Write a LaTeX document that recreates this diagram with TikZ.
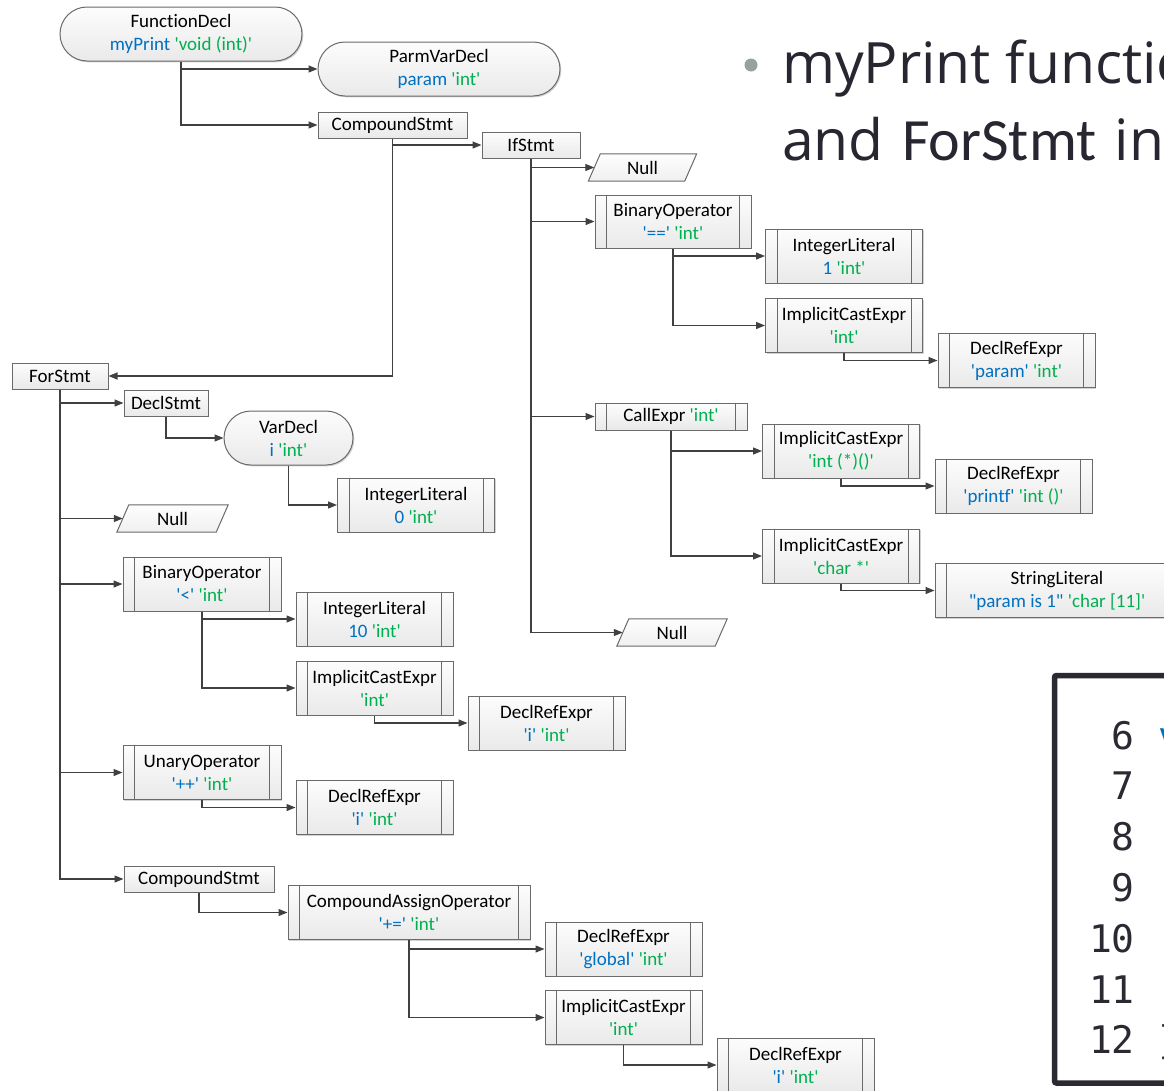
\documentclass[tikz,border=0pt]{standalone}
\usepackage{fontspec}
\setmainfont{Carlito}[Ligatures={TeXOff,NoCommon}]
\newfontfamily\titlefont{Open Sans}
\newfontfamily\titlecal{Carlito}[Ligatures={TeXOff,NoCommon}]
\newfontfamily\codefont{DejaVu Sans Mono}
\usetikzlibrary{arrows.meta,shadows,backgrounds}
\definecolor{cblue}{HTML}{0070C0}
\definecolor{cgreen}{HTML}{00B050}
\definecolor{lnc}{HTML}{404040}
\definecolor{bdc}{HTML}{6A6A6A}
\definecolor{titc}{HTML}{272631}
\definecolor{bulc}{HTML}{95A39B}
\definecolor{codeb}{HTML}{2A2A33}
\newcommand\txB[1]{\textcolor{cblue}{#1}}
\newcommand\txG[1]{\textcolor{cgreen}{#1}}
\newcommand\nodefs{\fontsize{19}{23}\selectfont}
\tikzset{
  base/.style={draw=bdc, line width=1pt, top color=gray!2, bottom color=gray!17,
    inner sep=0pt, align=center, font=\nodefs,
    drop shadow={shadow xshift=1.3pt, shadow yshift=-1.3pt, fill=black!35, opacity=0.5}},
  plainbox/.style={base, rectangle, minimum height=26pt},
  procbox/.style={base, rectangle, minimum height=54pt, minimum width=157pt,
    path picture={\draw[bdc, line width=1pt]
      ([xshift=11.5pt]path picture bounding box.south west) -- ([xshift=11.5pt]path picture bounding box.north west)
      ([xshift=-11.5pt]path picture bounding box.south east) -- ([xshift=-11.5pt]path picture bounding box.north east);}},
  stadium/.style={base, rectangle, rounded corners=27pt, minimum height=54pt},
  nulltxt/.style={inner sep=0pt, font=\nodefs, minimum width=96pt, minimum height=27pt},
  nullshape/.style={draw=bdc, line width=1pt, top color=gray!1, bottom color=gray!12},
  conn/.style={draw=lnc, line width=1.2pt, -{Triangle[length=9pt,width=7pt]}},
  titletext/.style={anchor=base west, inner sep=0pt, text=titc, font={\titlefont\fontsize{57}{68}\selectfont}},
  codetext/.style={inner sep=0pt, font={\codefont\fontsize{38}{46}\selectfont}},
}
\begin{document}
\begin{tikzpicture}[x=1pt,y=-1pt]
\clip (0,0) rectangle (1164,1090);

% ---------- title text ----------
\fill[bulc] (751,65) circle (6.5);
\node[titletext] (t1) at (782,83) {myPrint function};
\node[titletext] (t2) at (782,160) {and\hspace{0.32em}{\titlecal\fontsize{60}{68}\selectfont ForStmt}\hspace{0.32em}in};

% ---------- code box ----------
\draw[codeb, line width=5.5pt, rounded corners=2pt] (1180,675.5) -- (1054.5,675.5) -- (1054.5,1083) -- (1180,1083);
\foreach \n [count=\i from 0] in {6,...,12}
  \node[codetext, anchor=base east, text=codeb] (ln\n) at (1135,{749+\i*50.8}) {\n};
\node[codetext, anchor=base west, text=cblue] (c6) at (1158,749) {void};
\node[codetext, anchor=base west, text=codeb] (c12) at (1158,1053.8) {\}};

% ---------- upper tree ----------
\node[stadium, minimum width=242pt] (fd) at (181,34) {FunctionDecl\\\txB{myPrint} \txG{'void (int)'}};
\node[stadium, minimum width=242pt] (pvd) at (439,69) {ParmVarDecl\\\txB{param} \txG{'int'}};
\node[plainbox, minimum width=149pt] (cs1) at (392.5,125) {CompoundStmt};
\node[plainbox, minimum width=98pt] (ifs) at (531,145) {IfStmt};
\node[nulltxt] (n1) at (642.5,167.5) {Null};
\node[procbox, minimum width=156pt, minimum height=53pt] (bo1) at (673,221.5) {BinaryOperator\\\txB{'=='} \txG{'int'}};
\node[procbox] (il1) at (844,256) {IntegerLiteral\\\txB{1} \txG{'int'}};
\node[procbox] (ice1) at (844,325.5) {ImplicitCastExpr\\\txG{'int'}};
\node[procbox] (dr1) at (1016.5,360.5) {DeclRefExpr\\\txB{'param'} \txG{'int'}};
\node[procbox, minimum width=152pt, minimum height=27pt] (ce) at (671,416.5) {CallExpr \txG{'int'}};
\node[procbox] (ice2) at (841,451) {ImplicitCastExpr\\\txG{'int (*)()'}};
\node[procbox] (dr2) at (1013.5,486) {DeclRefExpr\\\txB{'printf'} \txG{'int ()'}};
\node[procbox] (ice3) at (841,556) {ImplicitCastExpr\\\txG{'char *'}};
\node[procbox, minimum width=244pt] (sl) at (1057,590.5) {StringLiteral\\\txB{"param is 1"} \txG{'char [11]'}};
\node[nulltxt, minimum width=98pt] (n3) at (672,632.5) {Null};

% ---------- ForStmt tree ----------
\node[plainbox, minimum width=96pt] (fors) at (60,376) {ForStmt};
\node[plainbox, minimum width=84pt] (ds) at (166,403) {DeclStmt};
\node[stadium, minimum width=129pt] (vd) at (288.5,438) {VarDecl\\\txB{i} \txG{'int'}};
\node[procbox] (il0) at (416,505) {IntegerLiteral\\\txB{0} \txG{'int'}};
\node[nulltxt, minimum width=99pt] (n2) at (172.5,518.5) {Null};
\node[procbox, minimum width=158pt] (bo2) at (202,584) {BinaryOperator\\\txB{'<'} \txG{'int'}};
\node[procbox] (il10) at (374.5,619) {IntegerLiteral\\\txB{10} \txG{'int'}};
\node[procbox] (ice4) at (374.5,688) {ImplicitCastExpr\\\txG{'int'}};
\node[procbox] (dr3) at (546.5,723) {DeclRefExpr\\\txB{'i'} \txG{'int'}};
\node[procbox, minimum width=158pt] (uo) at (202,772.5) {UnaryOperator\\\txB{'++'} \txG{'int'}};
\node[procbox] (dr4) at (374.5,807.5) {DeclRefExpr\\\txB{'i'} \txG{'int'}};
\node[plainbox, minimum width=150pt] (cs2) at (199,879) {CompoundStmt};
\node[procbox, minimum width=242pt] (cao) at (409,912.5) {CompoundAssignOperator\\\txB{'+='} \txG{'int'}};
\node[procbox] (dr5) at (623.5,949) {DeclRefExpr\\\txB{'global'} \txG{'int'}};
\node[procbox] (ice5) at (623.5,1017.5) {ImplicitCastExpr\\\txG{'int'}};
\node[procbox] (dr6) at (795.5,1065) {DeclRefExpr\\\txB{'i'} \txG{'int'}};

% ---------- background and Null parallelograms ----------
\begin{pgfonlayer}{background}
\fill[white] (0,0) rectangle (1164,1090);
\foreach \nn in {n1,n2,n3}
  \path[nullshape] ([xshift=-6pt]\nn.south west) -- ([xshift=6pt]\nn.north west) -- ([xshift=6pt]\nn.north east) -- ([xshift=-6pt]\nn.south east) -- cycle;
\end{pgfonlayer}

% ---------- connectors ----------
\draw[conn] (fd.south) |- (pvd.west);
\draw[conn] (fd.south) |- (cs1.west);
\draw[conn] (cs1.south) |- (ifs.west);
\draw[conn] (cs1.south) |- (fors.east);
\draw[conn] (ifs.south) |- (n1.west);
\draw[conn] (ifs.south) |- (bo1.west);
\draw[conn] (ifs.south) |- (ce.west);
\draw[conn] (ifs.south) |- (n3.west);
\draw[conn] (bo1.south) |- (il1.west);
\draw[conn] (bo1.south) |- (ice1.west);
\draw[conn] (ice1.south) |- (dr1.west);
\draw[conn] (ce.south) |- (ice2.west);
\draw[conn] (ce.south) |- (ice3.west);
\draw[conn] (ice2.south) |- (dr2.west);
\draw[conn] (ice3.south) |- (sl.west);
\draw[conn] (fors.south) |- (ds.west);
\draw[conn] (ds.south) |- (vd.west);
\draw[conn] (vd.south) |- (il0.west);
\draw[conn] (fors.south) |- (n2.west);
\draw[conn] (fors.south) |- (bo2.west);
\draw[conn] (bo2.south) |- (il10.west);
\draw[conn] (bo2.south) |- (ice4.west);
\draw[conn] (ice4.south) |- (dr3.west);
\draw[conn] (fors.south) |- (uo.west);
\draw[conn] (uo.south) |- (dr4.west);
\draw[conn] (fors.south) |- (cs2.west);
\draw[conn] (cs2.south) |- (cao.west);
\draw[conn] (cao.south) |- (dr5.west);
\draw[conn] (cao.south) |- (ice5.west);
\draw[conn] (ice5.south) |- (dr6.west);
\end{tikzpicture}
\end{document}
